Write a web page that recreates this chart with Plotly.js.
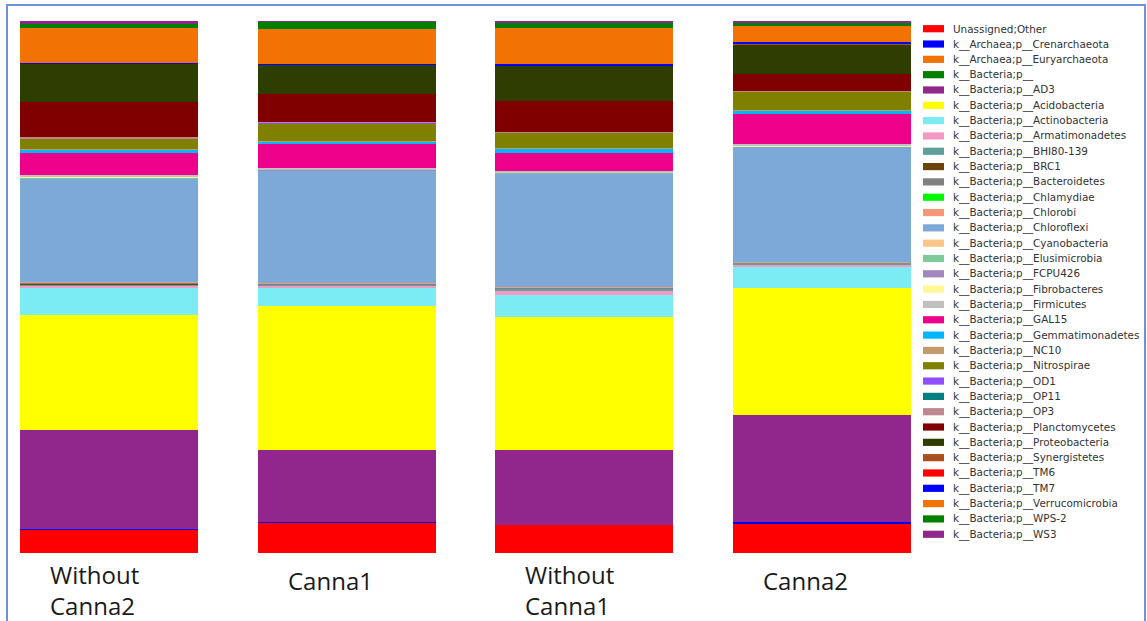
<!DOCTYPE html>
<html>
<head>
<meta charset="utf-8">
<script src="https://cdn.plot.ly/plotly-3.0.1.min.js"></script>
<style>
  html, body { margin: 0; padding: 0; background: #ffffff; }
  #chart { width: 1147px; height: 621px; }
</style>
</head>
<body>
<div id="chart"></div>
<script>
// ---- Data (relative abundance, %) ----
const samples = ["Without Canna2", "Canna1", "Without Canna1", "Canna2"];
const sampleLabels = ["Without<br>Canna2", "Canna1", "Without<br>Canna1", "Canna2"];

const taxa = [
  "Unassigned;Other",
  "k__Archaea;p__Crenarchaeota",
  "k__Archaea;p__Euryarchaeota",
  "k__Bacteria;p__",
  "k__Bacteria;p__AD3",
  "k__Bacteria;p__Acidobacteria",
  "k__Bacteria;p__Actinobacteria",
  "k__Bacteria;p__Armatimonadetes",
  "k__Bacteria;p__BHI80-139",
  "k__Bacteria;p__BRC1",
  "k__Bacteria;p__Bacteroidetes",
  "k__Bacteria;p__Chlamydiae",
  "k__Bacteria;p__Chlorobi",
  "k__Bacteria;p__Chloroflexi",
  "k__Bacteria;p__Cyanobacteria",
  "k__Bacteria;p__Elusimicrobia",
  "k__Bacteria;p__FCPU426",
  "k__Bacteria;p__Fibrobacteres",
  "k__Bacteria;p__Firmicutes",
  "k__Bacteria;p__GAL15",
  "k__Bacteria;p__Gemmatimonadetes",
  "k__Bacteria;p__NC10",
  "k__Bacteria;p__Nitrospirae",
  "k__Bacteria;p__OD1",
  "k__Bacteria;p__OP11",
  "k__Bacteria;p__OP3",
  "k__Bacteria;p__Planctomycetes",
  "k__Bacteria;p__Proteobacteria",
  "k__Bacteria;p__Synergistetes",
  "k__Bacteria;p__TM6",
  "k__Bacteria;p__TM7",
  "k__Bacteria;p__Verrucomicrobia",
  "k__Bacteria;p__WPS-2",
  "k__Bacteria;p__WS3"
];

// values per taxon: [Without Canna2, Canna1, Without Canna1, Canna2]
const unassigned       = [4.5, 5.8, 5.3, 5.6];
const crenarchaeota    = [0.03, 0.03, 0.03, 0.3];
const euryarchaeota    = [0.01, 0.01, 0.01, 0.01];
const bacteriaUnknown  = [0.01, 0.01, 0.01, 0.01];
const ad3              = [18.55, 13.6, 14.05, 20.05];
const acidobacteria    = [21.6, 27.0, 25.0, 23.9];
const actinobacteria   = [5.1, 3.4, 4.1, 3.8];
const armatimonadetes  = [0.55, 0.45, 0.9, 0.5];
const bhi80_139        = [0.2, 0.2, 0.3, 0.35];
const brc1             = [0.05, 0.05, 0.05, 0.05];
const bacteroidetes    = [0.3, 0.15, 0.15, 0.1];
const chlamydiae       = [0.02, 0.02, 0.02, 0.02];
const chlorobi         = [0.1, 0.05, 0.05, 0.1];
const chloroflexi      = [19.4, 21.15, 21.4, 21.6];
const cyanobacteria    = [0.05, 0.03, 0.03, 0.03];
const elusimicrobia    = [0.05, 0.03, 0.03, 0.03];
const fcpu426          = [0.05, 0.05, 0.05, 0.05];
const fibrobacteres    = [0.03, 0.02, 0.02, 0.02];
const firmicutes       = [0.4, 0.25, 0.3, 0.35];
const gal15            = [4.1, 4.5, 3.4, 5.6];
const gemmatimonadetes = [0.75, 0.55, 0.9, 0.75];
const nc10             = [0.1, 0.05, 0.05, 0.05];
const nitrospirae      = [1.9, 3.4, 2.8, 3.4];
const od1              = [0.1, 0.05, 0.05, 0.05];
const op11             = [0.05, 0.05, 0.05, 0.05];
const op3              = [0.2, 0.1, 0.1, 0.1];
const planctomycetes   = [6.55, 5.3, 5.8, 3.2];
const proteobacteria   = [7.2, 5.5, 6.6, 5.6];
const synergistetes    = [0.05, 0.02, 0.02, 0.02];
const tm6              = [0.05, 0.05, 0.05, 0.05];
const tm7              = [0.12, 0.12, 0.3, 0.3];
const verrucomicrobia  = [6.6, 6.6, 6.8, 3.0];
const wps2             = [0.75, 1.3, 0.9, 0.6];
const ws3              = [0.4, 0.1, 0.4, 0.4];

const values = [
  unassigned, crenarchaeota, euryarchaeota, bacteriaUnknown, ad3, acidobacteria,
  actinobacteria, armatimonadetes, bhi80_139, brc1, bacteroidetes, chlamydiae,
  chlorobi, chloroflexi, cyanobacteria, elusimicrobia, fcpu426, fibrobacteres,
  firmicutes, gal15, gemmatimonadetes, nc10, nitrospirae, od1, op11, op3,
  planctomycetes, proteobacteria, synergistetes, tm6, tm7, verrucomicrobia, wps2, ws3
];

// ---- Styles ----
const colors = [
  "#ff0000", "#0000ff", "#f27304", "#008000", "#91278d", "#ffff00",
  "#7cecf4", "#f49ac2", "#5da09e", "#6b440b", "#808080", "#02f702",
  "#f79679", "#7da9d8", "#fcc688", "#80c99b", "#a287bf", "#fff899",
  "#c0c0c0", "#ed008a", "#00b6ff", "#c49c6b", "#808000", "#8f4fff",
  "#008080", "#c0868e", "#800000", "#2e3e00", "#a9501c", "#ff0000",
  "#0000ff", "#f27304", "#008000", "#91278d"
];

// ---- Geometry helpers (pixel -> paper) ----
const W = 1147, H = 621;
const M = { l: 20, r: 236, t: 21, b: 68 };
const plotW = W - M.l - M.r, plotH = H - M.t - M.b;
const px = x => (x - M.l) / plotW;
const py = y => (H - M.b - y) / plotH;

const traces = taxa.map((name, i) => ({
  type: "bar",
  name: name,
  x: samples,
  y: values[i],
  marker: { color: colors[i], line: { width: 0 } },
  showlegend: false,
  hoverinfo: "name+y"
}));

const shapes = [];
const annotations = [];

// outer frame
shapes.push({
  type: "rect", xref: "paper", yref: "paper",
  x0: px(7), x1: px(1145), y0: py(640), y1: py(5),
  line: { color: "#6d92d6", width: 2 }, fillcolor: "rgba(0,0,0,0)"
});

// manual legend (Plotly's native rows cannot be this dense)
const legTop = 28.7, legStep = 15.32;
taxa.forEach((name, i) => {
  const yc = legTop + i * legStep;
  shapes.push({
    type: "rect", xref: "paper", yref: "paper",
    x0: px(923), x1: px(944), y0: py(yc + 3.6), y1: py(yc - 3.6),
    line: { width: 0 }, fillcolor: colors[i]
  });
  annotations.push({
    xref: "paper", yref: "paper", x: px(951), y: py(yc),
    xanchor: "left", yanchor: "middle", showarrow: false,
    text: name, font: { family: "DejaVu Sans", size: 10.4, color: "#333333" }
  });
});

// sample labels under bars
sampleLabels.forEach((lab, i) => {
  const twoLine = lab.indexOf("<br>") >= 0;
  annotations.push({
    xref: "x", yref: "paper", x: samples[i], y: py(twoLine ? 556 : 562),
    xanchor: "left", yanchor: "top", xshift: -61, align: "left",
    showarrow: false, text: lab,
    font: { family: "Open Sans", size: 24, color: "#1a1a1a" }
  });
});

const layout = {
  width: W, height: H,
  margin: M,
  paper_bgcolor: "#ffffff",
  plot_bgcolor: "#ffffff",
  barmode: "stack",
  bargap: 0.25,
  showlegend: false,
  xaxis: {
    type: "category", range: [-0.375, 3.375],
    showticklabels: false, showgrid: false, zeroline: false, showline: false, ticks: ""
  },
  yaxis: {
    range: [0, 100], visible: false, showgrid: false, zeroline: false
  },
  shapes: shapes,
  annotations: annotations
};

Plotly.newPlot("chart", traces, layout, { displayModeBar: false, responsive: false });
</script>
</body>
</html>
